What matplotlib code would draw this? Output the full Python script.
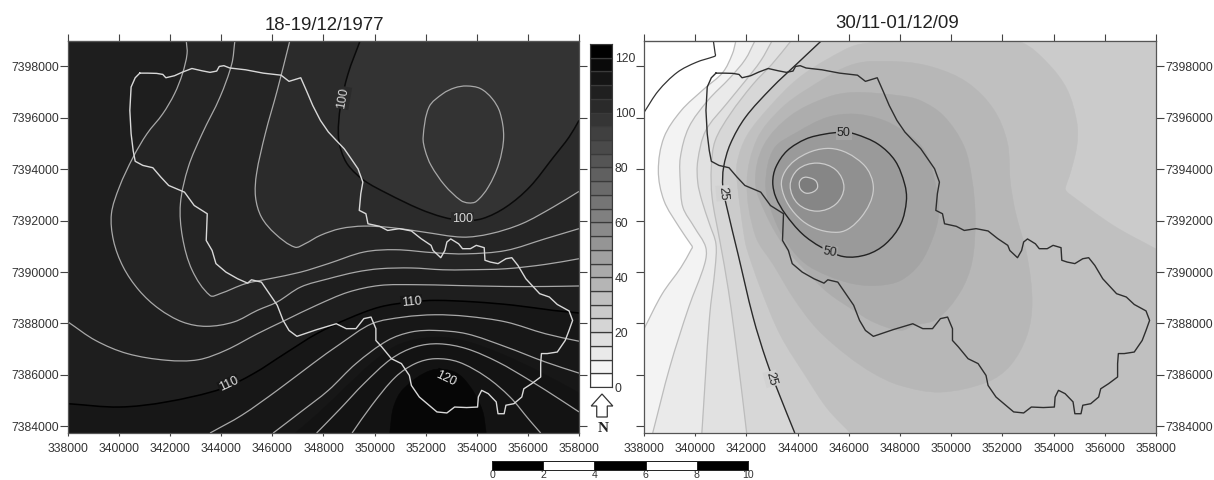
import numpy as np
import matplotlib
matplotlib.use('Agg')
import matplotlib.pyplot as plt
from matplotlib.path import Path
from matplotlib.patches import PathPatch

plt.rcParams['font.family'] = ['Liberation Sans', 'DejaVu Sans']

# all map coordinates in km: x = easting, y = northing minus 7300 km
x_ticks = [338000, 340000, 342000, 344000, 346000, 348000, 350000, 352000, 354000, 356000, 358000]
y_ticks = [7384000, 7386000, 7388000, 7390000, 7392000, 7394000, 7396000, 7398000]
bar_levels = [0, 5, 10, 15, 20, 25, 30, 35, 40, 45, 50, 55, 60, 65, 70, 75, 80, 85, 90, 95, 100, 105, 110, 115, 120]
bar_labels = [0, 20, 40, 60, 80, 100, 120]
scale_km = [0, 2, 4, 6, 8, 10]

boundary = [(340.81, 97.74), (341.12, 97.74), (341.47, 97.73), (341.71, 97.69), (341.83, 97.56), (342.17, 97.64),
            (342.48, 97.78), (342.85, 97.92), (343.25, 97.83), (343.56, 97.77), (343.82, 97.82), (343.92, 98.00),
            (344.10, 98.03), (344.33, 97.94), (344.95, 97.87), (345.64, 97.74), (346.34, 97.66), (346.65, 97.42),
            (347.11, 97.56), (347.34, 97.04), (347.58, 96.48), (347.88, 95.90), (348.19, 95.45), (348.50, 95.12),
            (348.81, 94.80), (349.04, 94.47), (349.35, 94.02), (349.54, 93.50), (349.46, 93.05), (349.40, 92.40),
            (349.66, 92.27), (349.74, 91.88), (350.20, 91.78), (350.51, 91.62), (350.97, 91.69), (351.44, 91.60),
            (351.82, 91.30), (352.21, 91.04), (352.29, 90.84), (352.59, 90.56), (352.75, 90.84), (352.83, 91.17),
            (352.98, 91.29), (353.29, 91.10), (353.44, 90.91), (353.75, 90.91), (353.98, 91.04), (354.29, 90.95),
            (354.32, 90.46), (354.53, 90.39), (354.83, 90.33), (355.14, 90.52), (355.37, 90.56), (355.61, 90.26),
            (355.92, 89.74), (356.46, 89.16), (356.84, 89.03), (357.15, 88.74), (357.61, 88.49), (357.75, 88.12),
            (357.61, 87.73), (357.46, 87.34), (357.15, 86.89), (356.76, 86.83), (356.53, 86.83), (356.50, 86.44),
            (356.50, 85.92), (356.15, 85.66), (355.84, 85.46), (355.76, 85.14), (355.45, 84.88), (355.14, 84.82),
            (355.07, 84.49), (354.83, 84.49), (354.76, 84.95), (354.45, 85.27), (354.19, 85.40), (354.06, 85.14),
            (354.03, 84.75), (353.60, 84.73), (353.13, 84.75), (352.83, 84.52), (352.44, 84.56), (352.13, 84.82),
            (351.75, 85.14), (351.44, 85.59), (351.36, 85.98), (351.05, 86.44), (350.66, 86.63), (350.28, 87.09),
            (350.05, 87.34), (350.05, 87.80), (349.86, 88.25), (349.58, 88.19), (349.27, 87.80), (348.89, 87.80),
            (348.50, 87.99), (347.73, 87.76), (346.96, 87.50), (346.65, 87.73), (346.42, 88.12), (346.19, 88.71),
            (345.88, 89.16), (345.57, 89.61), (345.18, 89.70), (345.03, 89.57), (344.64, 89.74), (344.18, 90.00),
            (343.79, 90.33), (343.64, 90.84), (343.41, 91.23), (343.45, 92.27), (342.94, 92.59), (342.56, 93.11),
            (341.94, 93.37), (341.63, 93.70), (341.32, 94.06), (340.93, 94.15), (340.63, 94.31), (340.55, 94.73),
            (340.47, 95.38), (340.42, 96.29), (340.47, 97.20), (340.63, 97.56), (340.81, 97.74)]

# 1977 storm, contour lines
l98 = [(353.60, 97.24), (354.14, 97.14), (354.60, 96.75), (354.91, 96.20), (355.05, 95.25), (354.86, 94.21),
       (354.45, 93.31), (353.98, 92.75), (353.68, 92.69), (353.37, 92.79), (352.75, 93.37), (352.21, 94.15),
       (351.98, 94.73), (351.90, 95.25), (352.13, 96.42), (352.67, 96.94), (353.14, 97.17)]
l100 = [(349.43, 98.99), (348.96, 97.71), (348.66, 96.42), (348.58, 95.38), (348.69, 94.73), (348.97, 94.15),
        (349.58, 93.57), (350.51, 93.05), (351.75, 92.46), (352.67, 92.14), (353.44, 92.01), (354.22, 92.08),
        (355.14, 92.53), (356.07, 93.31), (357.00, 94.47), (357.61, 95.25), (358.00, 95.90)]
l102 = [(346.68, 98.99), (346.19, 97.07), (345.72, 95.38), (345.38, 93.83), (345.34, 92.92), (345.57, 92.14),
        (346.11, 91.49), (346.88, 90.97), (347.27, 91.10), (347.88, 91.43), (348.66, 91.69), (349.58, 91.79),
        (350.66, 91.73), (351.90, 91.56), (353.44, 91.36), (354.52, 91.49), (355.76, 91.88), (356.99, 92.53),
        (358.00, 93.14)]
l104 = [(344.53, 98.99), (344.41, 98.10), (343.95, 96.81), (343.25, 95.38), (342.71, 94.09), (342.40, 92.66),
        (342.48, 91.36), (342.86, 90.07), (343.56, 89.09), (343.95, 89.16), (344.95, 89.55), (345.88, 89.74),
        (347.11, 90.00), (348.19, 90.33), (349.58, 90.78), (350.82, 90.87), (352.36, 90.75), (353.60, 90.71),
        (355.14, 90.84), (356.69, 91.30), (358.00, 91.69)]
l106 = [(342.63, 98.99), (342.66, 98.49), (342.48, 97.72), (342.17, 96.94), (341.71, 96.16), (341.09, 95.38),
        (340.55, 94.47), (340.01, 93.31), (339.70, 92.27), (339.78, 91.23), (340.16, 90.20), (340.78, 89.29),
        (341.55, 88.58), (342.48, 88.06), (343.41, 87.89), (344.49, 88.06), (345.41, 88.51), (346.19, 88.84),
        (347.11, 89.42), (348.19, 89.74), (349.27, 90.00), (350.20, 90.13), (351.44, 90.16), (352.67, 90.09),
        (353.60, 90.09), (355.14, 90.13), (356.69, 90.30), (358.00, 90.52)]
l108 = [(338.00, 88.06), (339.08, 87.34), (340.32, 86.83), (341.86, 86.57), (343.10, 86.59), (344.18, 86.96),
        (345.41, 87.60), (346.49, 88.12), (347.73, 88.71), (348.97, 89.22), (350.20, 89.48), (351.59, 89.51),
        (353.14, 89.48), (355.14, 89.44), (356.69, 89.44), (358.00, 89.46)]
l110 = [(338.00, 84.88), (340.01, 84.75), (341.86, 84.95), (344.02, 85.46), (345.26, 86.05), (346.49, 86.83),
        (347.73, 87.60), (348.97, 88.19), (350.20, 88.64), (351.44, 88.84), (352.36, 88.90), (353.91, 88.84),
        (355.45, 88.71), (356.99, 88.51), (358.00, 88.41)]
l112 = [(343.56, 83.74), (344.80, 84.43), (346.19, 85.40), (347.58, 86.44), (348.66, 87.21), (349.89, 87.99),
        (351.13, 88.25), (352.36, 88.34), (353.60, 88.28), (355.14, 88.06), (356.69, 87.60), (358.00, 87.31)]
l114 = [(346.03, 83.74), (347.11, 84.56), (348.19, 85.40), (349.27, 86.44), (350.51, 87.34), (351.44, 87.67),
        (352.36, 87.73), (353.60, 87.60), (355.14, 87.09), (356.69, 86.50), (358.00, 86.07)]
l116 = [(347.73, 83.74), (348.66, 84.69), (349.58, 85.66), (350.66, 86.63), (351.59, 87.09), (352.52, 87.21),
        (353.60, 87.02), (354.83, 86.50), (356.07, 85.79), (357.31, 85.01), (358.00, 84.56)]
l118 = [(349.12, 83.74), (349.89, 84.82), (350.82, 85.92), (351.59, 86.44), (352.36, 86.63), (353.29, 86.50),
        (354.37, 85.92), (355.30, 85.14), (356.07, 84.23), (356.50, 83.74)]
# band edges without a drawn line
e115 = [(346.9, 83.74), (347.9, 84.6), (348.9, 85.55), (350.0, 86.55), (351.0, 87.2), (352.4, 87.47), (353.6, 87.3),
        (355.0, 86.8), (356.4, 86.15), (358.0, 85.3)]
e120 = [(350.59, 83.74), (350.74, 84.75), (351.13, 85.46), (352.21, 86.18), (353.14, 86.11), (353.75, 85.53),
        (354.22, 84.62), (354.37, 83.74)]

# 2009 storm, contour lines
r0 = [(338.00, 96.21), (338.56, 97.05), (339.30, 97.77), (340.04, 98.16), (340.72, 98.38), (340.79, 98.42), (340.78, 98.50),
      (340.71, 98.99)]
r5 = [(341.59, 98.99), (341.45, 98.48), (341.08, 97.77), (340.34, 97.12), (339.45, 96.28), (338.78, 95.24),
      (338.56, 93.95), (338.78, 92.78), (339.38, 91.74), (339.85, 91.05), (339.89, 90.97), (339.85, 90.89),
      (339.45, 90.19), (338.71, 89.15), (338.00, 87.79)]
r10 = [(342.33, 98.99), (341.96, 98.28), (341.37, 97.57), (340.49, 96.67), (339.75, 95.63), (339.42, 94.46),
       (339.42, 93.49), (339.52, 92.52), (339.97, 91.74), (340.41, 90.97), (340.37, 90.32), (339.75, 88.64),
       (339.01, 86.31), (338.34, 83.74)]
r15 = [(343.00, 98.99), (342.56, 98.22), (341.96, 97.44), (341.22, 96.54), (340.41, 95.50), (340.10, 94.33),
       (340.10, 93.49), (340.26, 92.78), (340.56, 91.87), (340.81, 91.10), (340.78, 90.19), (340.56, 88.25),
       (340.26, 83.74)]
r20 = [(343.74, 98.99), (343.00, 98.09), (342.26, 97.31), (341.37, 96.15), (340.78, 95.11), (340.63, 94.08),
       (340.66, 92.91), (340.96, 91.23), (341.30, 89.28), (341.67, 86.56), (342.01, 83.74)]
r25 = [(344.92, 98.99), (343.96, 98.09), (343.00, 97.18), (341.96, 96.02), (341.37, 94.98), (341.11, 94.08),
       (341.08, 93.30), (341.25, 92.46), (341.67, 90.71), (342.26, 88.25), (342.78, 86.56), (343.30, 85.20),
       (343.89, 83.74)]
r50 = [(345.74, 95.44), (346.25, 95.37), (347.14, 94.98), (347.81, 94.33), (348.18, 93.43), (348.25, 92.78),
       (348.03, 91.87), (347.44, 91.10), (346.70, 90.68), (345.81, 90.60), (344.92, 90.97), (344.18, 91.49),
       (343.52, 92.26), (343.15, 92.91), (343.03, 93.49), (343.15, 94.08), (343.59, 94.72), (344.33, 95.18),
       (345.07, 95.37)]
r55 = [(345.28, 94.81), (346.55, 94.21), (346.96, 93.23), (346.48, 92.13), (345.59, 91.55), (344.18, 92.00),
       (343.37, 93.36), (343.89, 94.34)]
r60 = [(344.76, 94.24), (345.50, 93.97), (345.81, 93.30), (345.50, 92.65), (344.76, 92.37), (344.02, 92.65),
       (343.71, 93.36), (344.02, 94.00)]
r65 = [(344.36, 93.69), (344.70, 93.56), (344.78, 93.30), (344.63, 93.13), (344.33, 93.07), (344.11, 93.23),
       (344.07, 93.49), (344.18, 93.65)]
# band edges without a drawn line
r30 = [(346.06, 83.74), (345.16, 84.69), (344.38, 85.85), (343.33, 87.54), (342.56, 89.35), (342.02, 90.90),
       (341.91, 91.42), (341.64, 93.49), (341.64, 94.27), (342.02, 95.31), (342.94, 96.47), (343.99, 97.51),
       (345.16, 98.28), (346.46, 98.87), (348.92, 98.93), (351.88, 98.93), (352.76, 98.93), (353.74, 98.16),
       (354.52, 97.12), (354.91, 95.82), (354.91, 94.92), (354.66, 93.88), (354.46, 93.28), (354.48, 93.17),
       (354.60, 93.05), (356.34, 91.81), (358.00, 90.90)]
r35 = [(348.01, 98.18), (349.32, 97.96), (350.62, 97.38), (351.65, 96.34), (352.19, 95.05), (352.31, 93.49),
       (352.51, 92.33), (352.96, 90.64), (353.16, 88.83), (352.96, 87.54), (352.31, 86.37), (351.40, 85.72),
       (349.58, 85.33), (348.01, 85.59), (346.98, 86.05), (345.93, 86.76), (344.76, 87.79), (343.86, 88.96),
       (343.07, 90.26), (342.35, 91.42), (342.02, 93.49), (342.42, 95.18), (343.33, 96.34), (344.38, 97.12),
       (346.20, 98.09)]
r40 = [(348.01, 96.86), (348.80, 96.67), (349.70, 96.08), (350.49, 94.92), (350.81, 93.62), (350.94, 92.07),
       (350.81, 90.38), (350.35, 89.22), (349.45, 88.18), (348.53, 87.92), (348.01, 87.73), (346.98, 88.05),
       (346.20, 88.51), (345.16, 89.22), (344.24, 90.13), (343.46, 91.03), (342.76, 92.26), (342.35, 93.49),
       (342.67, 94.92), (343.72, 96.08), (345.16, 96.80), (346.20, 96.99)]
r45 = [(342.75, 93.49), (342.93, 92.52), (343.44, 91.36), (344.24, 90.38), (345.16, 89.87), (346.20, 89.54),
       (347.14, 89.48), (348.01, 89.67), (348.77, 90.32), (349.29, 91.36), (349.51, 92.26), (349.43, 93.17),
       (349.14, 94.34), (348.77, 94.98), (348.01, 95.57), (347.23, 95.95), (346.20, 96.15), (345.16, 96.02),
       (343.98, 95.44), (343.07, 94.79)]


def to_map(pts):
    a = np.array(pts, float)
    return np.column_stack([a[:, 0] * 1000, (a[:, 1] + 7300) * 1000])


def handle(v, length):
    return v / max(np.hypot(*v), 1e-9) * length / 3


def smooth(pts, closed=False, corners=()):
    # bezier segments through the read points, tangents from the neighbours
    p = to_map(pts)
    n = len(p)
    verts = [p[0]]
    codes = [Path.MOVETO]
    for i in range(n if closed else n - 1):
        if closed:
            a, b, c, d = p[(i - 1) % n], p[i], p[(i + 1) % n], p[(i + 2) % n]
        else:
            a, b, c, d = p[max(i - 1, 0)], p[i], p[i + 1], p[min(i + 2, n - 1)]
        seg = np.hypot(*(c - b))
        verts += [b + handle(c - a, seg), c - handle(d - b, seg), c]
        codes += [Path.CURVE4] * 3
    if len(corners):
        for q in to_map(corners):
            verts.append(q)
            codes.append(Path.LINETO)
    if closed or len(corners):
        verts.append(p[0])
        codes.append(Path.CLOSEPOLY)
    return Path(np.array(verts), codes)


def fill(ax, pts, color, closed=False, corners=()):
    ax.add_patch(PathPatch(smooth(pts, closed, corners), fc=color, ec=color, lw=0.3, zorder=1))


def line(ax, pts, color, lw, closed=False):
    ax.add_patch(PathPatch(smooth(pts, closed), fc='none', ec=color, lw=lw, zorder=2))


def label(ax, text, x, y, rot, fg, bg):
    ax.text(x * 1000, (y + 7300) * 1000, text, rotation=rot, color=fg, fontsize=9, ha='center', va='center',
            rotation_mode='anchor', zorder=3, bbox=dict(fc=bg, ec='none', pad=0.6))


def frame(ax):
    ax.set_xlim(338000, 358000)
    ax.set_ylim(7383740, 7398990)
    ax.set_xticks(x_ticks)
    ax.set_xticklabels([str(t) for t in x_ticks])
    ax.set_yticks(y_ticks)
    ax.set_yticklabels([str(t) for t in y_ticks])
    ax.tick_params(axis='x', length=2.5, width=0.8, pad=4.5, labelsize=8.7, color='#444444', labelcolor='#333333')
    ax.tick_params(axis='y', length=5.8, width=0.8, pad=0.8, labelsize=8.7, color='#444444', labelcolor='#333333')
    top = ax.secondary_xaxis('top')
    top.set_xticks(x_ticks)
    top.set_xticklabels([])
    top.tick_params(length=5.2, width=0.8, color='#444444')
    top.spines['top'].set_color('#555555')
    for s in ax.spines.values():
        s.set_color('#555555')
        s.set_linewidth(0.9)


W, H = 1214.0, 480.0
fig = plt.figure(figsize=(W / 100, H / 100), dpi=100)

# left panel
ax1 = fig.add_axes([68 / W, 1 - 433 / H, 511 / W, 392 / H])
ax1.set_facecolor('#1e1e1e')
fill(ax1, l106, '#242424', corners=[(358.2, 99.2), (342.63, 99.2)])
fill(ax1, l102, '#2b2b2b', corners=[(358.2, 99.2), (346.68, 99.2)])
fill(ax1, l100, '#333333', corners=[(358.2, 99.2), (349.43, 99.2)])
fill(ax1, l110, '#171717', corners=[(358.2, 83.5), (337.8, 83.5)])
fill(ax1, e115, '#131313', corners=[(358.2, 83.5)])
fill(ax1, e120, '#060606')
for c in [l102, l104, l106, l108, l112, l114, l116, l118]:
    line(ax1, c, '#a8a8a8', 0.9)
line(ax1, l98, '#a8a8a8', 0.9, closed=True)
line(ax1, l100, '#0a0a0a', 1.1)
line(ax1, l110, '#000000', 1.1)
label(ax1, '100', 348.78, 96.78, 80, '#d8d8d8', '#2b2b2b')
label(ax1, '100', 353.44, 92.08, 0, '#d8d8d8', '#2b2b2b')
label(ax1, '110', 351.44, 88.84, 5, '#e0e0e0', '#171717')
label(ax1, '110', 344.30, 85.63, 25, '#e0e0e0', '#171717')
label(ax1, '120', 352.80, 85.85, -25, '#e8e8e8', '#060606')
b = to_map(boundary)
ax1.plot(b[:, 0], b[:, 1], color='#d8d8d8', lw=1.0, zorder=4)
frame(ax1)
ax1.tick_params(axis='y', right=True, left=True)
fig.text(324 / W, 1 - 26 / H, '18-19/12/1977', fontsize=13.4, ha='center', va='center', color='#222222')

# right panel
ax2 = fig.add_axes([644 / W, 1 - 433 / H, 512 / W, 392 / H])
ax2.set_facecolor('white')
fill_right = [(358.2, 83.5), (358.2, 99.2)]
fill(ax2, r5, '#f3f3f3', corners=[(337.8, 83.5)] + fill_right)
fill(ax2, r10, '#eaeaea', corners=fill_right)
fill(ax2, r15, '#e1e1e1', corners=fill_right)
fill(ax2, r20, '#d7d7d7', corners=fill_right)
fill(ax2, r25, '#cbcbcb', corners=fill_right)
fill(ax2, r30, '#c0c0c0', corners=[(358.2, 83.5)])
fill(ax2, r35, '#b7b7b7', closed=True)
fill(ax2, r40, '#adadad', closed=True)
fill(ax2, r45, '#a4a4a4', closed=True)
fill(ax2, r50, '#9a9a9a', closed=True)
fill(ax2, r55, '#909090', closed=True)
fill(ax2, r60, '#868686', closed=True)
fill(ax2, r65, '#7c7c7c', closed=True)
for c in [r5, r10, r15, r20]:
    line(ax2, c, '#bcbcbc', 0.9)
for c in [r55, r60, r65]:
    line(ax2, c, '#cccccc', 0.9, closed=True)
line(ax2, r0, '#333333', 0.9)
line(ax2, r25, '#2a2a2a', 1.0)
line(ax2, r50, '#222222', 1.0, closed=True)
label(ax2, '50', 345.81, 95.41, 0, '#222222', '#a4a4a4')
label(ax2, '50', 345.25, 90.77, -10, '#222222', '#a4a4a4')
label(ax2, '25', 341.08, 93.07, -85, '#222222', '#d2d2d2')
label(ax2, '25', 342.97, 85.85, -75, '#222222', '#d2d2d2')
ax2.plot(b[:, 0], b[:, 1], color='#2e2e2e', lw=1.0, zorder=4)
frame(ax2)
ax2.tick_params(axis='y', left=True, right=True, labelleft=False, labelright=True)
fig.text(897 / W, 1 - 24 / H, '30/11-01/12/09', fontsize=13.4, ha='center', va='center', color='#222222')

# legend bar
cax = fig.add_axes([590 / W, 1 - 387 / H, 22 / W, 343 / H])
for lev in bar_levels:
    cax.bar(0, 5, bottom=lev, width=1, color=plt.cm.gray(1 - lev / 120), edgecolor='#3a3a3a', linewidth=0.9)
cax.set_xlim(-0.5, 0.5)
cax.set_ylim(0, 125)
cax.set_xticks([])
cax.yaxis.tick_right()
cax.set_yticks(bar_labels)
cax.tick_params(axis='y', length=0, pad=2, labelsize=8.7, labelcolor='#333333')
for s in cax.spines.values():
    s.set_color('#3a3a3a')

# north arrow
nax = fig.add_axes([590 / W, 1 - 418 / H, 24 / W, 25 / H])
nax.fill([0.5, 0.95, 0.72, 0.72, 0.28, 0.28, 0.05], [0.96, 0.48, 0.48, 0.04, 0.04, 0.48, 0.48],
         fc='white', ec='#333333', lw=0.9)
nax.set_xlim(0, 1)
nax.set_ylim(0, 1)
nax.axis('off')
fig.text(603 / W, 1 - 429 / H, 'N', family=['Liberation Serif'], fontweight='bold', fontsize=11,
         ha='center', va='center', color='#222222')

# scale bar
sax = fig.add_axes([492 / W, 1 - 470 / H, 256 / W, 9.5 / H])
for i in range(len(scale_km) - 1):
    sax.bar(scale_km[i], scale_km[i + 1] - scale_km[i], width=scale_km[i + 1] - scale_km[i], align='edge',
            color='black' if i % 2 == 0 else 'white', edgecolor='#222222', linewidth=0.7)
sax.set_xlim(0, 10)
sax.set_ylim(0, 2)
sax.set_yticks([])
sax.set_xticks(scale_km)
sax.tick_params(axis='x', length=0, pad=0, labelsize=7.6, labelcolor='#333333')
for s in sax.spines.values():
    s.set_color('#222222')
    s.set_linewidth(0.7)

fig.savefig('out.png', dpi=100)
